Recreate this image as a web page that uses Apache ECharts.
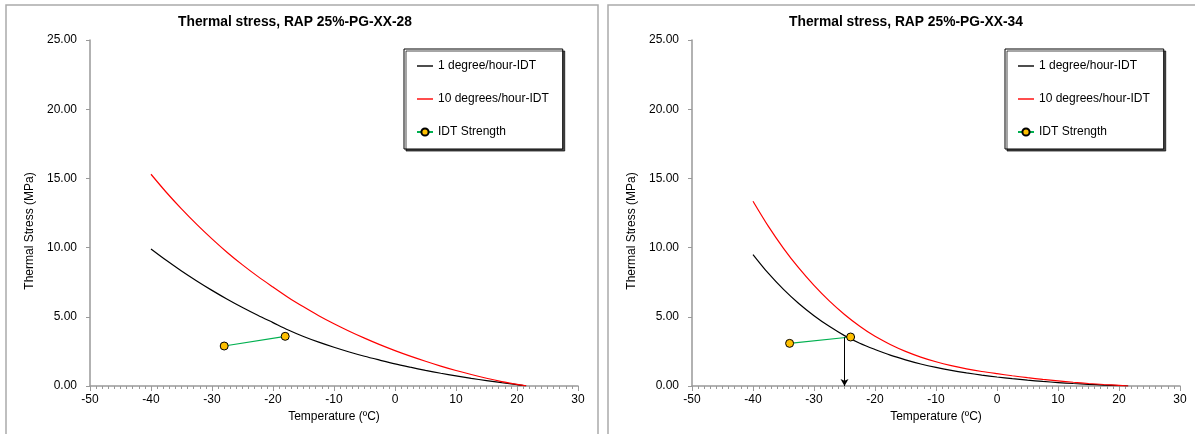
<!DOCTYPE html>
<html>
<head>
<meta charset="UTF-8">
<title>Thermal stress</title>
<script src="https://cdn.jsdelivr.net/npm/echarts@6/dist/echarts.min.js"></script>
<style>
  html, body { margin: 0; padding: 0; background: #fff; }
  #chart { width: 1195px; height: 434px; }
</style>
</head>
<body>
<div id="chart"></div>
<script>
// temperature grid of the two stress curves (ºC)
var temps = [-40, -37.5, -35, -32.5, -30, -27.5, -25, -22.5, -20, -17.5, -15, -12.5, -10,
             -7.5, -5, -2.5, 0, 2.5, 5, 7.5, 10, 12.5, 15, 17.5, 20, 21.5];
// RAP 25%-PG-XX-28
var slow28 = [9.9, 9.08, 8.31, 7.59, 6.91, 6.27, 5.67, 5.11, 4.58, 4.05, 3.58, 3.17, 2.8,
              2.46, 2.15, 1.87, 1.6, 1.36, 1.13, 0.92, 0.73, 0.55, 0.39, 0.24, 0.1, 0];
var fast28 = [15.3, 14.0, 12.8, 11.68, 10.63, 9.65, 8.75, 7.92, 7.15, 6.4, 5.72, 5.08, 4.5,
              3.96, 3.46, 2.99, 2.56, 2.16, 1.79, 1.44, 1.12, 0.83, 0.56, 0.32, 0.12, 0.02];
var idtT28 = [-28, -18];
var idtS28 = [2.89, 3.59];
// RAP 25%-PG-XX-34
var slow34 = [9.5, 8.15, 6.98, 5.96, 5.08, 4.31, 3.64, 3.09, 2.64, 2.23, 1.89, 1.59, 1.34,
              1.13, 0.95, 0.79, 0.65, 0.53, 0.42, 0.33, 0.25, 0.18, 0.12, 0.07, 0.03, 0];
var fast34 = [13.35, 11.55, 9.95, 8.53, 7.27, 6.15, 5.17, 4.32, 3.59, 3.0, 2.5, 2.09, 1.75,
              1.47, 1.24, 1.05, 0.89, 0.74, 0.6, 0.48, 0.37, 0.27, 0.18, 0.11, 0.05, 0];
var idtT34 = [-34, -24];
var idtS34 = [3.08, 3.54];
// crossing arrow on the -34 chart
var arrowT34 = -25;
var arrowTop34 = 3.52;

var names = ['1 degree/hour-IDT', '10 degrees/hour-IDT', 'IDT Strength'];
var titles = ['Thermal stress, RAP 25%-PG-XX-28', 'Thermal stress, RAP 25%-PG-XX-34'];
var FONT = '"Liberation Sans", Arial, sans-serif';
var LINE_ICON = 'path://M0,0L16,0L16,1.4L0,1.4Z';

function pairs(xs, ys) {
  return xs.map(function (x, i) { return [x, ys[i]]; });
}

var gridLefts = [90, 692];
var legendLefts = [404, 1005];
var titleCenters = [295, 906];
var yNameX = [30, 632];

function xAx(i) {
  return {
    gridIndex: i, type: 'value', min: -50, max: 30, interval: 10,
    name: 'Temperature (ºC)', nameLocation: 'middle', nameGap: 22,
    nameTextStyle: { color: '#000', fontSize: 12, fontFamily: FONT },
    axisLine: { onZero: false, lineStyle: { color: '#999', width: 1.5 } },
    axisTick: { show: true, length: 5, lineStyle: { color: '#999' } },
    minorTick: { show: true, splitNumber: 10, length: 3, lineStyle: { color: '#999' } },
    splitLine: { show: false },
    axisLabel: { color: '#000', fontSize: 12, fontFamily: FONT, margin: 8 }
  };
}
function yAx(i) {
  return {
    gridIndex: i, type: 'value', min: 0, max: 25, interval: 5,
    axisLine: { show: true, onZero: false, lineStyle: { color: '#999', width: 1.5 } },
    axisTick: { show: true, length: 4, lineStyle: { color: '#999' } },
    splitLine: { show: false },
    axisLabel: { color: '#000', fontSize: 12, fontFamily: FONT, margin: 13,
      formatter: function (v) { return v.toFixed(2); } }
  };
}
function curve(name, i, data, color) {
  return {
    name: name, type: 'line', xAxisIndex: i, yAxisIndex: i,
    data: data, symbol: 'none', smooth: 0.3,
    lineStyle: { color: color, width: 1.2 }, itemStyle: { color: color },
    animation: false
  };
}
function idt(i, data) {
  return {
    name: names[2], type: 'line', xAxisIndex: i, yAxisIndex: i,
    data: data, symbol: 'circle', symbolSize: 8,
    lineStyle: { color: '#00b050', width: 1.2 },
    itemStyle: { color: '#ffc000', borderColor: '#000', borderWidth: 1 },
    animation: false
  };
}

var slowWithArrow = curve(names[0], 1, pairs(temps, slow34), '#000');
slowWithArrow.markLine = {
  silent: true, symbol: ['none', 'arrow'], symbolSize: [6, 7],
  label: { show: false },
  lineStyle: { color: '#000', width: 1, type: 'solid' },
  data: [[{ coord: [arrowT34, arrowTop34] }, { coord: [arrowT34, 0] }]]
};

var graphics = [
  { type: 'rect', shape: { x: 6, y: 5, width: 592, height: 440 },
    style: { fill: 'none', stroke: '#aaa', lineWidth: 1.5 } },
  { type: 'rect', shape: { x: 608, y: 5, width: 600, height: 440 },
    style: { fill: 'none', stroke: '#aaa', lineWidth: 1.5 } }
];
[0, 1].forEach(function (i) {
  graphics.push({ type: 'text', x: titleCenters[i], y: 22,
    style: { text: titles[i], fill: '#000', font: 'bold 13.8px ' + FONT,
      textAlign: 'center', textVerticalAlign: 'middle' } });
  graphics.push({ type: 'text', x: yNameX[i], y: 231, rotation: Math.PI / 2,
    style: { text: 'Thermal Stress (MPa)', fill: '#000', font: '12px ' + FONT,
      textAlign: 'center', textVerticalAlign: 'middle' } });
});

var chart = echarts.init(document.getElementById('chart'));
chart.setOption({
  animation: false,
  textStyle: { fontFamily: FONT },
  grid: [0, 1].map(function (i) {
    return { left: gridLefts[i], top: 40, width: 488, height: 346 };
  }),
  xAxis: [xAx(0), xAx(1)],
  yAxis: [yAx(0), yAx(1)],
  legend: [0, 1].map(function (i) {
    return {
      data: [
        { name: names[0], icon: LINE_ICON },
        { name: names[1], icon: LINE_ICON },
        { name: names[2] }
      ],
      orient: 'vertical', left: legendLefts[i], top: 49,
      itemWidth: 16, itemHeight: 9, itemGap: 19,
      padding: [10, 14, 10, 12],
      backgroundColor: '#fff', borderColor: '#000', borderWidth: 1, borderRadius: 0,
      shadowColor: 'rgba(0,0,0,0.7)', shadowOffsetX: 2, shadowOffsetY: 2, shadowBlur: 0,
      selectedMode: false,
      textStyle: { color: '#000', fontSize: 12, lineHeight: 14, fontFamily: FONT }
    };
  }),
  graphic: graphics,
  series: [
    curve(names[0], 0, pairs(temps, slow28), '#000'),
    curve(names[1], 0, pairs(temps, fast28), '#ff0000'),
    idt(0, pairs(idtT28, idtS28)),
    slowWithArrow,
    curve(names[1], 1, pairs(temps, fast34), '#ff0000'),
    idt(1, pairs(idtT34, idtS34))
  ]
});
</script>
</body>
</html>
